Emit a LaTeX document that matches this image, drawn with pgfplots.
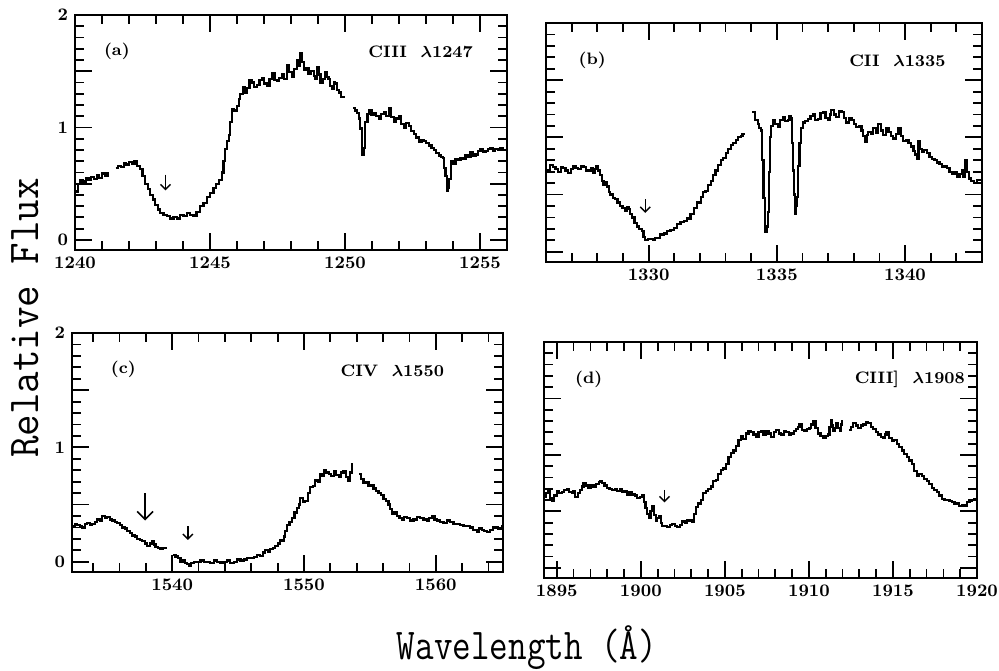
\documentclass[border=0pt]{standalone}
\usepackage{pgfplots}
\pgfplotsset{compat=1.18}
\usepackage{bm}
\usetikzlibrary{arrows.meta}
\pgfplotsset{
  spec/.style={
    scale only axis, anchor=south west,
    ymin=-0.09, ymax=2,
    ytick={0,0.5,1,1.5,2},
    minor ytick={0.1,0.2,0.3,0.4,0.6,0.7,0.8,0.9,1.1,1.2,1.3,1.4,1.6,1.7,1.8,1.9},
    major tick length=8.5pt, minor tick length=4.5pt,
    tick style={line width=0.9pt, black},
    axis line style={line width=1pt},
    tick label style={font=\bfseries\fontsize{8.8}{10}\selectfont},
    /pgf/number format/assume math mode=true,
    /pgf/number format/1000 sep={},
    unbounded coords=jump,
  },
  sp/.style={black, line width=1.1pt, const plot, mark=none},
}
\tikzset{
  lab/.style={font=\bfseries\fontsize{8.3}{10}\selectfont},
  arr/.style={line width=0.7pt, -{Straight Barb[length=2.5pt,width=5pt]}},
}
\begin{document}
\begin{tikzpicture}
\path[use as bounding box] (0,0) rectangle (499.5pt,335pt);
% ---------------- (a)
\begin{axis}[spec, at={(37.5pt,210pt)}, width=216pt, height=117.5pt,
  xmin=1240, xmax=1256, xtick={1240,1245,1250,1255},
  minor xtick={1241,1242,1243,1244,1246,1247,1248,1249,1251,1252,1253,1254,1256},
  yticklabels={0,,1,,2}]
\addplot[sp] coordinates {(1240.0,0.43)(1240.1,0.50)(1240.2,0.53)(1240.3,0.52)(1240.4,0.55)(1240.5,0.53)(1240.6,0.56)(1240.7,0.54)(1240.8,0.58)(1240.9,0.55)(1241.0,0.59)(1241.1,0.57)(1241.2,0.60)(1241.35,nan)
(1241.5,0.64)(1241.6,0.66)(1241.7,0.65)(1241.8,0.68)(1241.9,0.67)(1242.0,0.69)(1242.1,0.68)(1242.2,0.70)(1242.3,0.66)(1242.41,0.63)(1242.5,0.57)(1242.6,0.50)(1242.7,0.45)(1242.78,0.40)(1242.88,0.36)(1242.97,0.31)(1243.06,0.27)(1243.15,0.24)(1243.28,0.22)(1243.4,0.21)(1243.52,0.19)(1243.65,0.20)(1243.78,0.19)(1243.9,0.22)(1244.02,0.21)(1244.14,0.24)(1244.26,0.22)(1244.39,0.21)(1244.5,0.25)(1244.64,0.30)(1244.76,0.33)(1244.88,0.38)(1245.0,0.42)(1245.13,0.46)(1245.22,0.50)(1245.32,0.53)(1245.44,0.60)(1245.5,0.70)(1245.56,0.81)(1245.63,0.88)(1245.69,0.93)(1245.75,1.05)(1245.81,1.16)(1245.9,1.15)(1246.0,1.19)(1246.06,1.25)(1246.12,1.30)(1246.22,1.36)(1246.3,1.31)(1246.37,1.35)(1246.46,1.42)(1246.55,1.40)(1246.64,1.36)(1246.74,1.38)(1246.83,1.42)(1246.92,1.44)(1247.01,1.39)(1247.11,1.37)(1247.2,1.43)(1247.3,1.48)(1247.39,1.42)(1247.48,1.41)(1247.57,1.44)(1247.66,1.47)(1247.75,1.43)(1247.85,1.55)(1247.94,1.49)(1248.03,1.45)(1248.12,1.52)(1248.22,1.60)(1248.28,1.55)(1248.34,1.66)(1248.4,1.58)(1248.47,1.51)(1248.56,1.53)(1248.65,1.48)(1248.75,1.50)(1248.84,1.46)(1248.9,1.43)(1248.96,1.54)(1249.03,1.47)(1249.09,1.40)(1249.18,1.43)(1249.27,1.49)(1249.33,1.45)(1249.39,1.43)(1249.45,1.37)(1249.52,1.34)(1249.58,1.40)(1249.64,1.39)(1249.7,1.33)(1249.77,1.31)(1249.86,1.27)(1249.95,1.26)(1250.1,nan)
(1250.3,1.17)(1250.38,1.15)(1250.45,1.13)(1250.52,1.08)(1250.57,0.99)(1250.63,0.76)(1250.69,0.82)(1250.75,1.05)(1250.83,1.12)(1250.91,1.15)(1250.98,1.11)(1251.06,1.13)(1251.15,1.10)(1251.25,1.08)(1251.34,1.12)(1251.43,1.14)(1251.52,1.10)(1251.62,1.17)(1251.71,1.09)(1251.8,1.05)(1251.9,1.08)(1251.99,1.10)(1252.08,1.03)(1252.18,1.00)(1252.27,1.04)(1252.36,1.01)(1252.45,0.97)(1252.55,0.94)(1252.64,0.91)(1252.73,0.87)(1252.83,0.89)(1252.92,0.88)(1253.01,0.86)(1253.1,0.84)(1253.2,0.82)(1253.29,0.80)(1253.38,0.77)(1253.47,0.75)(1253.55,0.74)(1253.63,0.73)(1253.68,0.64)(1253.72,0.57)(1253.78,0.44)(1253.82,0.46)(1253.86,0.54)(1253.93,0.70)(1254.01,0.68)(1254.09,0.72)(1254.18,0.71)(1254.28,0.73)(1254.37,0.72)(1254.46,0.75)(1254.55,0.74)(1254.65,0.78)(1254.74,0.75)(1254.83,0.76)(1254.92,0.79)(1255.02,0.81)(1255.11,0.78)(1255.2,0.79)(1255.3,0.81)(1255.39,0.82)(1255.48,0.79)(1255.57,0.81)(1255.67,0.80)(1255.76,0.82)(1255.86,0.80)(1255.95,0.81)};
\draw[arr] (axis cs:1243.35,0.58) -- (axis cs:1243.35,0.44);
\node[lab] at (axis cs:1241.55,1.68) {(a)};
\node[lab] at (axis cs:1252.8,1.67) {CIII\ \ $\bm{\lambda}$1247};
\end{axis}
% ---------------- (b)
\begin{axis}[spec, at={(273pt,204pt)}, width=218pt, height=119.5pt,
  xmin=1326, xmax=1343, xtick={1330,1335,1340},
  minor xtick={1327,1328,1329,1331,1332,1333,1334,1336,1337,1338,1339,1341,1342},
  yticklabels={}]
\addplot[sp] coordinates {(1326.0,0.71)(1326.08,0.71)(1326.17,0.76)(1326.27,0.74)(1326.37,0.72)(1326.47,0.70)(1326.57,0.74)(1326.67,0.73)(1326.76,0.71)(1326.86,0.69)(1326.96,0.72)(1327.06,0.75)(1327.15,0.73)(1327.25,0.72)(1327.35,0.75)(1327.46,0.74)(1327.55,0.71)(1327.65,0.71)(1327.75,0.73)(1327.84,0.69)(1327.91,0.72)(1327.97,0.75)(1328.04,0.71)(1328.1,0.67)(1328.17,0.62)(1328.24,0.58)(1328.31,0.61)(1328.39,0.57)(1328.45,0.52)(1328.5,0.50)(1328.6,0.47)(1328.69,0.46)(1328.79,0.43)(1328.89,0.40)(1328.98,0.38)(1329.08,0.36)(1329.15,0.39)(1329.22,0.37)(1329.28,0.33)(1329.35,0.30)(1329.45,0.25)(1329.54,0.22)(1329.64,0.20)(1329.74,0.18)(1329.8,0.13)(1329.87,0.10)(1329.97,0.11)(1330.07,0.11)(1330.16,0.10)(1330.26,0.12)(1330.36,0.12)(1330.46,0.15)(1330.59,0.16)(1330.72,0.18)(1330.85,0.19)(1330.98,0.21)(1331.11,0.24)(1331.24,0.26)(1331.37,0.27)(1331.5,0.29)(1331.63,0.33)(1331.76,0.38)(1331.9,0.43)(1332.03,0.48)(1332.12,0.52)(1332.22,0.53)(1332.32,0.58)(1332.42,0.62)(1332.51,0.67)(1332.61,0.71)(1332.71,0.76)(1332.81,0.80)(1332.91,0.82)(1333.01,0.86)(1333.1,0.90)(1333.2,0.93)(1333.3,0.95)(1333.4,0.98)(1333.5,1.00)(1333.59,1.01)(1333.66,1.03)(1333.73,1.04)(1333.9,nan)
(1334.05,1.22)(1334.15,1.15)(1334.25,1.12)(1334.32,1.08)(1334.38,1.06)(1334.43,0.80)(1334.48,0.47)(1334.55,0.17)(1334.6,0.22)(1334.64,0.35)(1334.68,0.70)(1334.72,1.00)(1334.78,1.10)(1334.84,1.15)(1334.94,1.12)(1335.03,1.09)(1335.13,1.15)(1335.23,1.18)(1335.32,1.14)(1335.42,1.15)(1335.49,1.19)(1335.56,1.17)(1335.6,0.95)(1335.63,0.71)(1335.67,0.50)(1335.71,0.33)(1335.75,0.40)(1335.79,0.48)(1335.84,0.75)(1335.88,0.95)(1335.95,1.08)(1336.01,1.13)(1336.11,1.14)(1336.21,1.16)(1336.31,1.19)(1336.41,1.20)(1336.5,1.15)(1336.6,1.16)(1336.7,1.21)(1336.8,1.22)(1336.9,1.17)(1336.99,1.15)(1337.06,1.20)(1337.12,1.24)(1337.22,1.20)(1337.32,1.18)(1337.42,1.23)(1337.52,1.22)(1337.61,1.17)(1337.71,1.13)(1337.81,1.17)(1337.91,1.15)(1338.0,1.12)(1338.1,1.09)(1338.2,1.10)(1338.3,1.06)(1338.36,1.01)(1338.43,0.96)(1338.5,1.02)(1338.56,1.05)(1338.66,1.03)(1338.76,1.08)(1338.86,1.04)(1338.95,1.12)(1339.05,1.06)(1339.15,1.02)(1339.25,1.08)(1339.35,1.05)(1339.45,1.01)(1339.54,0.99)(1339.64,1.03)(1339.74,1.08)(1339.84,1.01)(1339.93,0.97)(1340.03,0.98)(1340.13,0.95)(1340.23,0.92)(1340.33,0.88)(1340.4,0.85)(1340.46,0.81)(1340.52,0.97)(1340.58,0.90)(1340.65,0.87)(1340.75,0.89)(1340.85,0.86)(1340.95,0.83)(1341.05,0.81)(1341.15,0.80)(1341.24,0.78)(1341.34,0.77)(1341.44,0.74)(1341.54,0.75)(1341.63,0.73)(1341.73,0.70)(1341.83,0.68)(1341.93,0.70)(1342.03,0.65)(1342.12,0.68)(1342.22,0.71)(1342.28,0.65)(1342.35,0.80)(1342.42,0.70)(1342.48,0.64)(1342.58,0.62)(1342.68,0.60)(1342.8,0.63)(1342.95,0.63)};
\draw[arr] (axis cs:1329.87,0.46) -- (axis cs:1329.87,0.34);
\node[lab] at (axis cs:1327.8,1.67) {(b)};
\node[lab] at (axis cs:1339.7,1.67) {CII\ \ $\bm{\lambda}$1335};
\end{axis}
% ---------------- (c)
\begin{axis}[spec, at={(36pt,49pt)}, width=215.5pt, height=119.5pt,
  xmin=1532.4, xmax=1565.1, xtick={1540,1550,1560},
  minor xtick={1534,1536,1538,1542,1544,1546,1548,1552,1554,1556,1558,1562,1564},
  yticklabels={0,,1,,2}]
\addplot[sp] coordinates {(1532.42,0.31)(1532.6,0.33)(1532.8,0.32)(1533.0,0.31)(1533.18,0.30)(1533.37,0.33)(1533.56,0.34)(1533.75,0.32)(1533.94,0.33)(1534.13,0.35)(1534.32,0.37)(1534.51,0.36)(1534.7,0.40)(1534.89,0.38)(1535.08,0.39)(1535.27,0.37)(1535.45,0.36)(1535.64,0.35)(1535.83,0.34)(1536.02,0.32)(1536.21,0.30)(1536.4,0.29)(1536.59,0.27)(1536.78,0.25)(1536.97,0.23)(1537.16,0.22)(1537.35,0.20)(1537.54,0.19)(1537.73,0.18)(1537.92,0.16)(1538.11,0.14)(1538.3,0.16)(1538.48,0.18)(1538.6,0.15)(1538.74,0.13)(1538.93,0.12)(1539.12,0.11)(1539.3,0.12)(1539.49,0.13)(1539.8,nan)
(1540.08,0.06)(1540.25,0.045)(1540.44,0.03)(1540.63,0.0)(1540.82,0.01)(1541.0,-0.01)(1541.13,-0.02)(1541.26,-0.04)(1541.45,-0.01)(1541.64,0.0)(1541.9,0.0)(1542.15,0.01)(1542.4,0.0)(1542.65,0.0)(1542.9,-0.01)(1543.16,0.01)(1543.4,0.0)(1543.66,-0.01)(1543.9,0.0)(1544.17,0.01)(1544.4,-0.01)(1544.67,0.0)(1544.9,0.02)(1545.18,0.01)(1545.43,0.02)(1545.68,0.03)(1545.94,0.03)(1546.19,0.04)(1546.44,0.06)(1546.69,0.05)(1546.88,0.08)(1547.07,0.10)(1547.26,0.09)(1547.45,0.11)(1547.64,0.12)(1547.83,0.14)(1548.02,0.16)(1548.21,0.19)(1548.34,0.18)(1548.46,0.22)(1548.58,0.27)(1548.71,0.32)(1548.9,0.35)(1549.09,0.38)(1549.28,0.43)(1549.47,0.47)(1549.6,0.50)(1549.72,0.56)(1549.91,0.52)(1550.1,0.53)(1550.29,0.60)(1550.48,0.65)(1550.67,0.66)(1550.86,0.71)(1551.05,0.70)(1551.24,0.77)(1551.36,0.75)(1551.49,0.80)(1551.68,0.78)(1551.87,0.77)(1552.06,0.75)(1552.25,0.79)(1552.44,0.76)(1552.63,0.74)(1552.82,0.78)(1553.0,0.79)(1553.19,0.74)(1553.38,0.71)(1553.5,0.78)(1553.64,0.86)(1553.9,nan)
(1554.19,0.77)(1554.35,0.72)(1554.52,0.69)(1554.71,0.70)(1554.9,0.66)(1555.09,0.67)(1555.28,0.64)(1555.47,0.62)(1555.66,0.60)(1555.85,0.58)(1556.04,0.55)(1556.23,0.53)(1556.41,0.50)(1556.54,0.46)(1556.67,0.42)(1556.86,0.43)(1557.05,0.40)(1557.24,0.38)(1557.42,0.37)(1557.6,0.39)(1557.8,0.38)(1558.05,0.36)(1558.31,0.37)(1558.56,0.39)(1558.81,0.38)(1559.06,0.37)(1559.32,0.36)(1559.51,0.38)(1559.7,0.40)(1559.9,0.37)(1560.08,0.36)(1560.33,0.35)(1560.58,0.34)(1560.83,0.36)(1561.09,0.35)(1561.34,0.33)(1561.59,0.33)(1561.85,0.32)(1562.1,0.31)(1562.35,0.31)(1562.6,0.30)(1562.85,0.28)(1563.1,0.26)(1563.29,0.29)(1563.48,0.28)(1563.67,0.27)(1563.86,0.26)(1564.11,0.28)(1564.37,0.30)(1564.7,0.29)(1565.0,0.32)};
\draw[line width=0.8pt, -{Straight Barb[length=4pt,width=8pt]}] (axis cs:1537.95,0.60) -- (axis cs:1537.95,0.36);
\draw[arr] (axis cs:1541.19,0.31) -- (axis cs:1541.19,0.19);
\node[lab] at (axis cs:1536.3,1.68) {(c)};
\node[lab] at (axis cs:1556.7,1.67) {CIV\ \ $\bm{\lambda}$1550};
\end{axis}
% ---------------- (d)
\begin{axis}[spec, at={(272pt,46pt)}, width=216.5pt, height=118pt,
  xmin=1894.24, xmax=1920, xtick={1895,1900,1905,1910,1915,1920},
  minor xtick={1896,1897,1898,1899,1901,1902,1903,1904,1906,1907,1908,1909,1911,1912,1913,1914,1916,1917,1918,1919},
  yticklabels={}]
\addplot[sp] coordinates {(1894.24,0.63)(1894.37,0.66)(1894.5,0.68)(1894.6,0.62)(1894.7,0.59)(1894.85,0.64)(1895.0,0.68)(1895.15,0.66)(1895.3,0.67)(1895.45,0.69)(1895.6,0.70)(1895.75,0.67)(1895.9,0.66)(1896.0,0.68)(1896.1,0.63)(1896.25,0.66)(1896.39,0.69)(1896.5,0.72)(1896.59,0.75)(1896.74,0.73)(1896.89,0.71)(1897.04,0.73)(1897.19,0.72)(1897.34,0.74)(1897.49,0.76)(1897.59,0.77)(1897.69,0.75)(1897.84,0.73)(1897.99,0.71)(1898.14,0.70)(1898.29,0.69)(1898.44,0.70)(1898.59,0.68)(1898.74,0.70)(1898.88,0.67)(1899.03,0.68)(1899.18,0.65)(1899.33,0.67)(1899.48,0.65)(1899.63,0.64)(1899.78,0.62)(1899.93,0.63)(1900.08,0.64)(1900.18,0.58)(1900.28,0.53)(1900.38,0.48)(1900.48,0.44)(1900.58,0.50)(1900.68,0.55)(1900.78,0.47)(1900.88,0.42)(1900.98,0.44)(1901.08,0.46)(1901.18,0.40)(1901.27,0.37)(1901.42,0.37)(1901.57,0.36)(1901.72,0.38)(1901.87,0.39)(1902.02,0.37)(1902.17,0.36)(1902.32,0.38)(1902.47,0.41)(1902.62,0.40)(1902.77,0.42)(1902.92,0.42)(1903.07,0.41)(1903.17,0.48)(1903.27,0.54)(1903.42,0.57)(1903.57,0.60)(1903.72,0.66)(1903.86,0.68)(1904.01,0.70)(1904.16,0.72)(1904.31,0.77)(1904.46,0.78)(1904.61,0.83)(1904.76,0.87)(1904.91,0.88)(1905.06,0.92)(1905.21,0.98)(1905.36,1.02)(1905.51,1.04)(1905.66,1.08)(1905.81,1.13)(1905.96,1.17)(1906.1,1.14)(1906.25,1.19)(1906.4,1.21)(1906.55,1.20)(1906.7,1.18)(1906.85,1.16)(1907.0,1.20)(1907.15,1.21)(1907.3,1.18)(1907.45,1.21)(1907.6,1.19)(1907.75,1.16)(1907.9,1.20)(1908.05,1.22)(1908.2,1.19)(1908.35,1.18)(1908.5,1.21)(1908.65,1.20)(1908.8,1.18)(1908.94,1.19)(1909.09,1.21)(1909.24,1.23)(1909.34,1.25)(1909.44,1.27)(1909.59,1.22)(1909.74,1.21)(1909.89,1.23)(1910.04,1.24)(1910.14,1.27)(1910.24,1.30)(1910.39,1.24)(1910.54,1.19)(1910.69,1.17)(1910.84,1.15)(1910.99,1.17)(1911.14,1.18)(1911.22,1.25)(1911.29,1.31)(1911.36,1.26)(1911.43,1.21)(1911.53,1.24)(1911.63,1.28)(1911.73,1.24)(1911.83,1.21)(1911.9,1.27)(1911.97,1.31)(1912.18,nan)
(1912.39,1.22)(1912.51,1.25)(1912.63,1.28)(1912.78,1.26)(1912.93,1.24)(1913.08,1.26)(1913.23,1.27)(1913.38,1.29)(1913.53,1.28)(1913.68,1.25)(1913.82,1.23)(1913.97,1.20)(1914.12,1.18)(1914.27,1.16)(1914.42,1.15)(1914.52,1.18)(1914.62,1.20)(1914.77,1.15)(1914.92,1.12)(1915.07,1.13)(1915.22,1.10)(1915.37,1.07)(1915.52,1.04)(1915.67,1.01)(1915.82,0.98)(1915.97,0.95)(1916.12,0.92)(1916.27,0.86)(1916.41,0.81)(1916.56,0.83)(1916.71,0.81)(1916.86,0.79)(1917.01,0.77)(1917.16,0.74)(1917.31,0.71)(1917.46,0.69)(1917.61,0.67)(1917.76,0.64)(1917.91,0.61)(1918.06,0.60)(1918.21,0.60)(1918.36,0.59)(1918.51,0.58)(1918.66,0.57)(1918.8,0.57)(1918.95,0.55)(1919.1,0.56)(1919.25,0.55)(1919.4,0.58)(1919.55,0.59)(1919.7,0.60)(1919.85,0.61)(1920.0,0.61)};
\draw[arr] (axis cs:1901.41,0.69) -- (axis cs:1901.41,0.58);
\node[lab] at (axis cs:1896.9,1.67) {(d)};
\node[lab] at (axis cs:1916.0,1.67) {CIII]\ \ $\bm{\lambda}$1908};
\end{axis}
% axis titles
\node[rotate=90, font=\ttfamily\fontsize{22}{24}\selectfont, xscale=0.95] at (12.5pt,176pt) {Relative Flux};
\node[font=\ttfamily\fontsize{22}{24}\selectfont, xscale=0.82] at (263.5pt,11pt) {Wavelength (Å)};
\end{tikzpicture}
\end{document}
